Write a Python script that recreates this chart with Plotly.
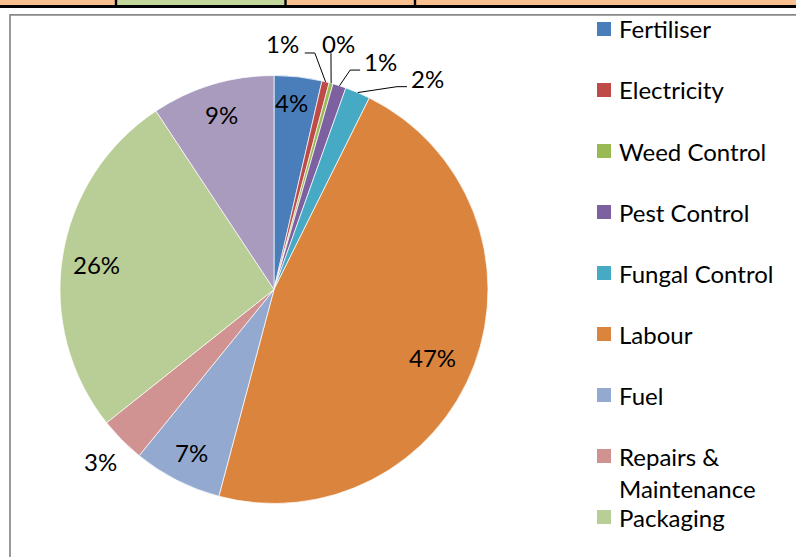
import math
import plotly.graph_objects as go

# ---------------- data ----------------
categories = ["Fertiliser", "Electricity", "Weed Control", "Pest Control", "Fungal Control",
              "Labour", "Fuel", "Repairs & Maintenance", "Packaging", "Other"]
values = [3.6, 0.55, 0.3, 1.0, 1.9, 46.8, 6.7, 3.45, 26.4, 9.3]
colors = ["#4A7EBB", "#BE4B48", "#98B954", "#7D60A0", "#46AAC5",
          "#DB843D", "#93A9CF", "#D19392", "#B9CD96", "#A99BBD"]

# ---------------- layout / style ----------------
W, H = 796, 557
CX, CY, R = 274.0, 289.5, 214.0
FONT = "Lato, Carlito, Calibri, sans-serif"
FS = 24

# label placement (radial fraction of R, angular nudge in degrees)
label_frac = [0.876, 1.148, 1.19, 1.177, 1.22, 0.808, 0.853, 1.14, 0.836, 0.855]
label_nudge = [-1.0, -11.9, -0.7, 7.1, 13.1, 2.6, -0.3, 0.0, -1.1, 0.2]
# leader lines: (elbow offset, attach offset) relative to label centre, in px
leaders = {
    1: ((32, 9), (22, 9)),
    2: ((-8, 10), (-8, 10)),
    3: ((-30, 9), (-20, 9)),
    4: ((-31, 8), (-21, 8)),
}


def px(x):
    return x / W


def py(y):
    return 1 - y / H


total = sum(values)
pcts = [int(v / total * 100 + 0.5) for v in values]

fig = go.Figure(go.Pie(
    labels=categories,
    values=values,
    sort=False,
    direction="clockwise",
    rotation=0,
    marker=dict(colors=colors, line=dict(color="white", width=0.7)),
    textinfo="none",
    hoverinfo="label+percent",
    showlegend=False,
    domain=dict(x=[px(CX - R), px(CX + R)], y=[py(CY + R), py(CY - R)]),
))

annotations = []
shapes = []

# percentage labels + leader lines
cum = 0.0
for i, v in enumerate(values):
    mid = (cum + v / 2) / total * 360.0
    cum += v
    ang = math.radians(mid + label_nudge[i])
    lx = CX + R * label_frac[i] * math.sin(ang)
    ly = CY - R * label_frac[i] * math.cos(ang)
    annotations.append(dict(x=px(lx), y=py(ly), xref="paper", yref="paper",
                            text=f"{pcts[i]}%", showarrow=False,
                            xanchor="center", yanchor="middle",
                            font=dict(family=FONT, size=FS, color="#000000")))
    if i in leaders:
        (ex, ey), (ax_, ay_) = leaders[i]
        m = math.radians(mid)
        sx = CX + R * math.sin(m)
        sy = CY - R * math.cos(m)
        path = (f"M {px(sx)} {py(sy)} L {px(lx + ex)} {py(ly + ey)} "
                f"L {px(lx + ax_)} {py(ly + ay_)}")
        shapes.append(dict(type="path", xref="paper", yref="paper", path=path,
                           line=dict(color="#000000", width=1)))

# manual legend
LEG_X, LEG_Y0, LEG_DY, SQ = 597, 29, 61, 14
for i, name in enumerate(categories):
    yc = LEG_Y0 + LEG_DY * i
    if yc > H - 20:
        continue
    shapes.append(dict(type="rect", xref="paper", yref="paper",
                       x0=px(LEG_X), x1=px(LEG_X + SQ), y0=py(yc - SQ / 2), y1=py(yc + SQ / 2),
                       fillcolor=colors[i], line=dict(width=0)))
    lines = name.replace("& ", "&\n").split("\n") if len(name) > 16 else [name]
    for k, t in enumerate(lines):
        annotations.append(dict(x=px(LEG_X + 20), y=py(yc + 32 * k), xref="paper", yref="paper",
                                text=t, showarrow=False, xanchor="left", yanchor="middle",
                                font=dict(family=FONT, size=FS, color="#000000")))

# background decorations: table strip above chart and chart border
cells = [(0, 116, "#FAC090"), (116, 286, "#C4D79B"), (286, 415, "#FAC090"), (415, 796, "#FAC090")]
for x0, x1, c in cells:
    shapes.append(dict(type="rect", xref="paper", yref="paper", x0=px(x0), x1=px(x1),
                       y0=py(6), y1=py(0), fillcolor=c, line=dict(width=0), layer="below"))
shapes.append(dict(type="rect", xref="paper", yref="paper", x0=px(0), x1=px(W),
                   y0=py(8), y1=py(5), fillcolor="#000000", line=dict(width=0)))
for xv in (116, 285.5, 415):
    shapes.append(dict(type="rect", xref="paper", yref="paper", x0=px(xv - 1.2), x1=px(xv + 1.2),
                       y0=py(6), y1=py(0), fillcolor="#000000", line=dict(width=0)))
shapes.append(dict(type="path", xref="paper", yref="paper",
                   path=f"M {px(10)} {py(H)} L {px(10)} {py(14.8)} L {px(W)} {py(14.8)}",
                   line=dict(color="#888888", width=1.7)))

fig.update_layout(
    width=W, height=H,
    margin=dict(l=0, r=0, t=0, b=0),
    paper_bgcolor="white", plot_bgcolor="white",
    annotations=annotations, shapes=shapes,
    font=dict(family=FONT),
)
fig.write_html("out.html", config={"displayModeBar": False},
               post_script=("document.documentElement.style.overflow='hidden';"
                            "document.body.style.overflow='hidden';"
                            "document.body.style.margin='0';"))
